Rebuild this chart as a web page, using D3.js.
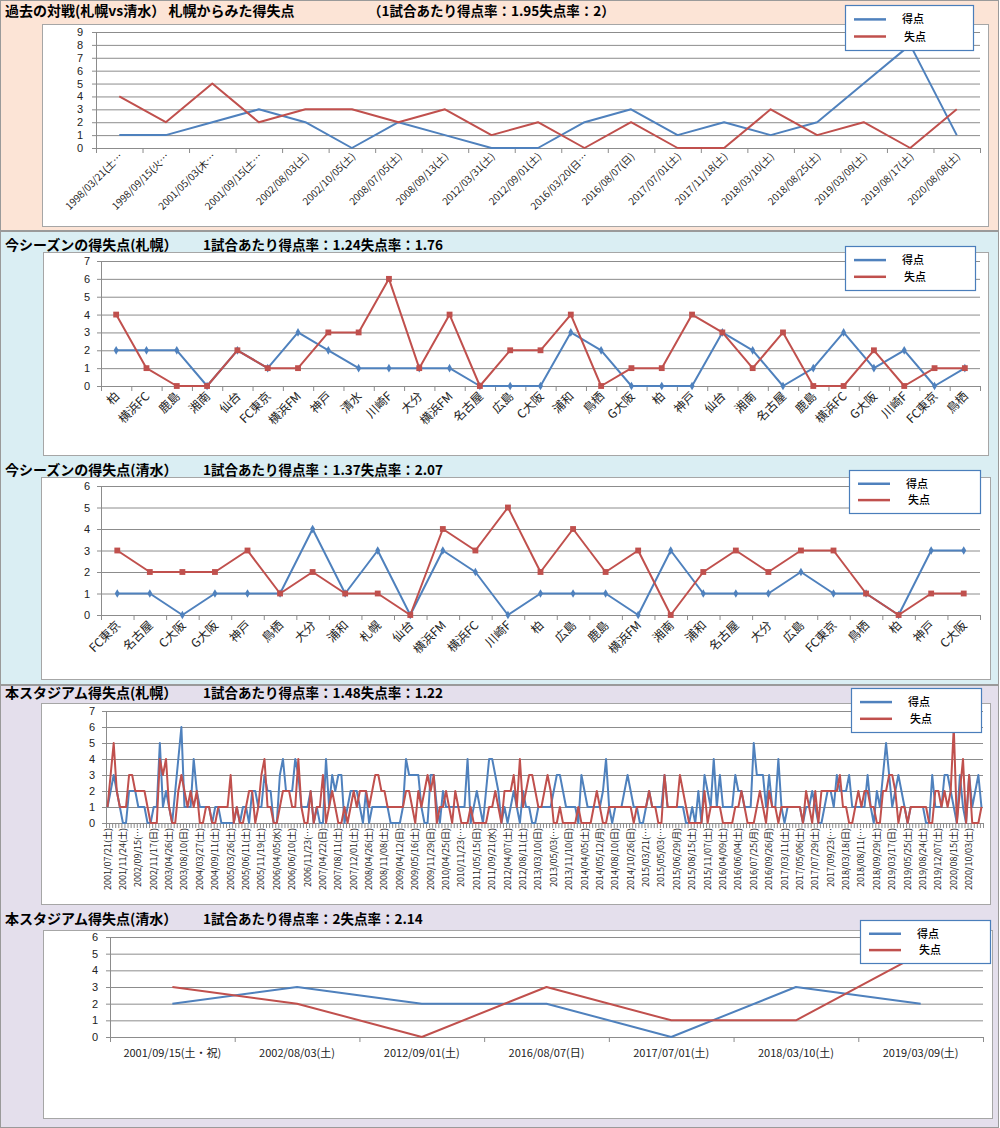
<!DOCTYPE html>
<html lang="ja">
<head>
<meta charset="UTF-8">
<title>札幌vs清水 得失点</title>
<script src="https://cdn.jsdelivr.net/npm/d3@7"></script>
<style>
  body { margin: 0; background: #fff; }
  svg { display: block; }
</style>
</head>
<body>
<div id="chart"></div>
<script>
// ---- 過去の対戦 ----
const h2hDates = ['1998/03/21(土…', '1998/09/15(火…', '2001/05/03(木…', '2001/09/15(土…', '2002/08/03(土)', '2002/10/05(土)',
  '2008/07/05(土)', '2008/09/13(土)', '2012/03/31(土)', '2012/09/01(土)', '2016/03/20(日…', '2016/08/07(日)',
  '2017/07/01(土)', '2017/11/18(土)', '2018/03/10(土)', '2018/08/25(土)', '2019/03/09(土)', '2019/08/17(土)', '2020/08/08(土)']
const h2hFor = [1, 1, 2, 3, 2, 0, 2, 1, 0, 0, 2, 3, 1, 2, 1, 2, 5, 8, 1]
const h2hAgainst = [4, 2, 5, 2, 3, 3, 2, 3, 1, 2, 0, 2, 0, 0, 3, 1, 2, 0, 3]

// ---- 今シーズン(札幌) ----
const sapOpp = ['柏', '横浜FC', '鹿島', '湘南', '仙台', 'FC東京', '横浜FM', '神戸', '清水', '川崎F', '大分', '横浜FM', '名古屋', '広島',
  'C大阪', '浦和', '鳥栖', 'G大阪', '柏', '神戸', '仙台', '湘南', '名古屋', '鹿島', '横浜FC', 'G大阪', '川崎F', 'FC東京', '鳥栖']
const sapFor = [2, 2, 2, 0, 2, 1, 3, 2, 1, 1, 1, 1, 0, 0, 0, 3, 2, 0, 0, 0, 3, 2, 0, 1, 3, 1, 2, 0, 1]
const sapAgainst = [4, 1, 0, 0, 2, 1, 1, 3, 3, 6, 1, 4, 0, 2, 2, 4, 0, 1, 1, 4, 3, 1, 3, 0, 0, 2, 0, 1, 1]

// ---- 今シーズン(清水) ----
const shiOpp = ['FC東京', '名古屋', 'C大阪', 'G大阪', '神戸', '鳥栖', '大分', '浦和', '札幌', '仙台', '横浜FM', '横浜FC', '川崎F', '柏',
  '広島', '鹿島', '横浜FM', '湘南', '浦和', '名古屋', '大分', '広島', 'FC東京', '鳥栖', '柏', '神戸', 'C大阪']
const shiFor = [1, 1, 0, 1, 1, 1, 4, 1, 3, 0, 3, 2, 0, 1, 1, 1, 0, 3, 1, 1, 1, 2, 1, 1, 0, 3, 3]
const shiAgainst = [3, 2, 2, 2, 3, 1, 2, 1, 1, 0, 4, 3, 5, 2, 4, 2, 3, 0, 2, 3, 2, 3, 3, 1, 0, 1, 1]

// ---- 本スタジアム(札幌) 5試合ごとにラベル ----
const domeLabels = ['2001/07/21(土)', '2001/11/24(土)', '2002/09/15(…', '2002/11/17(日)', '2003/04/26(土)', '2003/08/10(日)',
  '2004/03/27(土)', '2004/09/11(土)', '2005/03/26(土)', '2005/06/11(土)', '2005/11/19(土)', '2006/04/05(水)', '2006/06/10(土)',
  '2006/11/23(…', '2007/04/22(日)', '2007/08/11(土)', '2007/12/01(土)', '2008/04/26(土)', '2008/11/08(土)', '2009/04/12(日)',
  '2009/05/16(土)', '2009/11/29(日)', '2010/04/25(日)', '2010/11/23(…', '2011/05/15(日)', '2011/09/21(水)', '2012/04/07(土)',
  '2012/08/11(土)', '2013/03/10(日)', '2013/05/03(…', '2013/11/10(日)', '2014/04/05(土)', '2014/05/12(月)', '2014/08/10(日)',
  '2014/10/26(日)', '2015/03/21(…', '2015/05/03(…', '2015/06/29(月)', '2015/08/15(土)', '2015/11/07(土)', '2016/04/09(土)',
  '2016/06/04(土)', '2016/07/25(月)', '2016/09/26(月)', '2017/03/11(土)', '2017/05/06(土)', '2017/07/29(土)', '2017/09/23(…',
  '2018/03/18(日)', '2018/08/11(…', '2018/09/29(土)', '2019/03/17(日)', '2019/05/25(土)', '2019/08/24(土)', '2019/12/07(土)',
  '2020/08/15(土)', '2020/10/03(土)']
const domeFor = [
  1, 2, 3, 2, 1, 0, 0, 2, 2, 2, 1, 1, 1, 0, 0, 1, 1, 5, 1, 2, 1, 0, 2, 4, 6, 1, 1, 1, 4, 2,
  1, 1, 1, 1, 0, 1, 1, 0, 0, 0, 0, 0, 1, 0, 1, 1, 0, 2, 2, 1, 1, 3, 2, 2, 0, 0, 3, 4, 2, 2,
  2, 4, 3, 1, 1, 1, 2, 0, 1, 0, 0, 4, 1, 3, 2, 3, 3, 0, 1, 2, 2, 2, 1, 0, 2, 0, 1, 1, 1, 1,
  1, 1, 0, 0, 0, 0, 1, 4, 3, 3, 3, 3, 1, 0, 0, 3, 3, 1, 0, 2, 1, 1, 1, 1, 1, 1, 1, 4, 0, 1,
  2, 1, 0, 2, 4, 4, 3, 2, 0, 1, 0, 1, 2, 1, 0, 2, 1, 1, 0, 0, 1, 1, 1, 1, 1, 2, 3, 3, 2, 1,
  1, 1, 1, 0, 3, 2, 1, 1, 1, 1, 1, 2, 4, 1, 0, 1, 1, 1, 2, 3, 2, 1, 1, 0, 0, 1, 2, 1, 1, 1,
  1, 3, 1, 1, 1, 1, 1, 1, 0, 0, 1, 0, 2, 0, 3, 2, 1, 4, 1, 3, 1, 1, 1, 1, 3, 2, 2, 1, 1, 1,
  5, 3, 3, 3, 1, 3, 1, 1, 4, 1, 0, 1, 1, 1, 1, 1, 0, 1, 1, 2, 1, 0, 0, 1, 2, 2, 1, 3, 2, 2,
  2, 3, 1, 1, 1, 1, 1, 3, 1, 0, 2, 1, 3, 5, 3, 1, 2, 3, 2, 1, 0, 1, 1, 1, 1, 1, 0, 0, 3, 1,
  1, 1, 3, 3, 2, 1, 0, 3, 1, 0, 3, 1, 2, 3, 1]
const domeAgainst = [
  1, 3, 5, 2, 1, 1, 1, 3, 3, 2, 2, 2, 2, 1, 0, 0, 0, 4, 3, 4, 1, 0, 0, 2, 3, 2, 1, 2, 1, 2,
  0, 0, 1, 1, 0, 0, 1, 1, 1, 1, 3, 0, 1, 0, 0, 1, 2, 2, 0, 1, 3, 4, 1, 1, 0, 0, 1, 2, 2, 2,
  1, 1, 4, 1, 0, 0, 2, 0, 1, 1, 3, 0, 1, 2, 1, 0, 0, 1, 0, 1, 2, 1, 2, 2, 2, 1, 2, 3, 3, 2,
  2, 1, 1, 1, 1, 1, 1, 2, 2, 1, 0, 2, 1, 2, 3, 2, 3, 0, 1, 1, 2, 1, 0, 2, 1, 0, 0, 0, 1, 0,
  0, 0, 0, 0, 1, 1, 2, 1, 0, 2, 2, 2, 3, 1, 4, 1, 2, 3, 3, 2, 1, 1, 2, 3, 2, 0, 0, 1, 0, 0,
  0, 0, 0, 1, 0, 0, 0, 0, 1, 2, 1, 0, 0, 1, 1, 1, 1, 1, 1, 1, 1, 0, 1, 1, 1, 1, 2, 1, 1, 0,
  0, 3, 1, 1, 1, 1, 3, 2, 1, 0, 0, 0, 0, 0, 2, 0, 1, 1, 1, 1, 0, 0, 0, 0, 1, 1, 2, 1, 0, 0,
  0, 1, 2, 1, 0, 2, 1, 1, 0, 1, 1, 1, 1, 1, 1, 1, 0, 2, 1, 0, 2, 0, 2, 2, 2, 2, 2, 2, 3, 1,
  1, 0, 0, 1, 2, 1, 2, 2, 1, 1, 0, 0, 2, 2, 3, 3, 2, 0, 1, 1, 0, 1, 1, 1, 1, 1, 1, 0, 0, 2,
  2, 1, 2, 1, 2, 6, 0, 2, 4, 0, 3, 0, 0, 0, 1]

// ---- 本スタジアム(清水) ----
const shiDomeDates = ['2001/09/15(土・祝)', '2002/08/03(土)', '2012/09/01(土)', '2016/08/07(日)', '2017/07/01(土)', '2018/03/10(土)', '2019/03/09(土)']
const shiDomeFor = [2, 3, 2, 2, 0, 3, 2]
const shiDomeAgainst = [3, 2, 0, 3, 1, 1, 5]

const FONT = '"Noto Sans CJK JP", "Noto Sans", sans-serif'
const NUMFONT = '"Liberation Sans", "DejaVu Sans", sans-serif'
const BLUE = '#4F81BD'
const RED = '#C0504D'
const GRID = '#8c8c8c'

const svg = d3.select('#chart').append('svg')
  .attr('width', 1000).attr('height', 1128)
  .attr('font-family', FONT)

// section backgrounds
const sections = [
  { y: 0, h: 231, fill: '#FCE4D6' },
  { y: 231, h: 454, fill: '#DAEEF3' },
  { y: 685, h: 443, fill: '#E4DFEC' }
]
svg.selectAll('rect.sec').data(sections).join('rect')
  .attr('class', 'sec')
  .attr('x', 0.5).attr('y', d => d.y + 0.5)
  .attr('width', 998).attr('height', d => d.h - 1)
  .attr('fill', d => d.fill).attr('stroke', '#9a9a9a')

const defs = svg.append('defs')

function drawPanel(p) {
  const [bx0, by0, bx1, by1] = p.box
  svg.append('text').attr('x', 5).attr('y', p.titleY)
    .attr('font-size', 14).attr('font-weight', 'bold').text(p.title)
  svg.append('text').attr('x', p.rateX).attr('y', p.titleY)
    .attr('font-size', 13.5).attr('font-weight', 'bold').text(p.rate)

  svg.append('rect').attr('x', bx0 + 0.5).attr('y', by0 + 0.5)
    .attr('width', bx1 - bx0).attr('height', by1 - by0)
    .attr('fill', '#fff').attr('stroke', '#a6a6a6')

  const n = p.scored.length
  const x = d3.scaleBand().domain(d3.range(n)).range([p.x0, p.x1])
  const xEdge = d3.scaleLinear().domain([0, n]).range([p.x0, p.x1])
  const y = d3.scaleLinear().domain([0, p.yMax]).range([p.yBase, p.yTop])
  const cx = i => x(i) + x.bandwidth() / 2

  // gridlines
  const gg = svg.append('g').attr('transform', `translate(${p.x0},0)`)
    .call(d3.axisLeft(y).ticks(p.yMax).tickSize(-(p.x1 - p.x0)).tickSizeOuter(0).tickFormat(''))
  gg.select('.domain').remove()
  gg.selectAll('line').attr('stroke', GRID)

  // y axis
  const gy = svg.append('g').attr('transform', `translate(${p.x0},0)`)
    .call(d3.axisLeft(y).ticks(p.yMax).tickSize(4).tickSizeOuter(0).tickPadding(p.yPad).tickFormat(d3.format('d')))
  gy.attr('font-family', NUMFONT).attr('font-size', 11)
  gy.select('.domain').attr('stroke', GRID)
  gy.selectAll('line').attr('stroke', GRID)
  gy.selectAll('text').attr('fill', '#222')

  // x axis, ticks between categories
  const gx = svg.append('g').attr('transform', `translate(0,${p.yBase})`)
    .call(d3.axisBottom(xEdge).tickValues(d3.range(n + 1)).tickSize(5).tickSizeOuter(0).tickFormat(''))
  gx.select('.domain').attr('stroke', GRID)
  gx.selectAll('line').attr('stroke', GRID)

  // category labels
  const every = p.every || 1
  const idx = d3.range(n).filter(i => i % every === 0)
  const lab = svg.append('g').attr('font-size', p.labelSize).attr('fill', '#222')
  if (p.clip) {
    defs.append('clipPath').attr('id', p.clip)
      .append('rect').attr('x', bx0).attr('y', by0).attr('width', bx1 - bx0).attr('height', by1 - by0)
    lab.attr('clip-path', `url(#${p.clip})`)
  }
  lab.selectAll('text').data(idx).join('text')
    .text(i => p.labels[i / every])
    .attr('text-anchor', p.rot === 0 ? 'middle' : 'end')
    .attr('transform', i => p.rot === 0
      ? `translate(${cx(i)},${p.yBase + p.ldy})`
      : `translate(${cx(i) + p.ldx},${p.yBase + p.ldy}) rotate(${p.rot})`)

  // series
  const line = d3.line().x((d, i) => cx(i)).y(d => y(d))
  const series = [
    { vals: p.scored, color: BLUE, sym: d3.symbolDiamond, size: 22 },
    { vals: p.conceded, color: RED, sym: d3.symbolSquare, size: 34 }
  ]
  series.forEach(s => {
    svg.append('path').datum(s.vals).attr('d', line)
      .attr('fill', 'none').attr('stroke', s.color).attr('stroke-width', 2)
      .attr('stroke-linejoin', 'round')
    if (p.markers) {
      svg.append('g').selectAll('path').data(s.vals).join('path')
        .attr('d', d3.symbol().type(s.sym).size(s.size))
        .attr('transform', (d, i) => `translate(${cx(i)},${y(d)})`)
        .attr('fill', s.color)
    }
  })

  // legend
  const [lx0, ly0, lx1, ly1] = p.legend
  const lg = svg.append('g')
  lg.append('rect').attr('x', lx0 + 0.5).attr('y', ly0 + 0.5)
    .attr('width', lx1 - lx0).attr('height', ly1 - ly0)
    .attr('fill', '#fff').attr('stroke', '#4A7EBB').attr('stroke-width', 1.2)
  const rows = [{ name: '得点', color: BLUE, dx: 0 }, { name: '失点', color: RED, dx: 2 }]
  rows.forEach((r, k) => {
    const yy = ly0 + (ly1 - ly0) * (0.32 + k * 0.38)
    lg.append('line').attr('x1', lx0 + 9).attr('x2', lx0 + 41).attr('y1', yy).attr('y2', yy)
      .attr('stroke', r.color).attr('stroke-width', 2.5)
    lg.append('text').attr('x', lx0 + 57 + r.dx).attr('y', yy + 4)
      .attr('font-size', 11).attr('font-weight', 500).text(r.name)
  })
}

drawPanel({
  title: '過去の対戦(札幌vs清水） 札幌からみた得失点', rate: '（1試合あたり得点率：1.95失点率：2）',
  titleY: 16, rateX: 368, box: [42, 24, 988, 226],
  x0: 96, x1: 980, yBase: 148, yTop: 32, yMax: 9, yPad: 9,
  labels: h2hDates, labelSize: 10, rot: -45, ldx: 4, ldy: 9,
  scored: h2hFor, conceded: h2hAgainst, markers: false, legend: [845, 5, 973, 50]
})

drawPanel({
  title: '今シーズンの得失点(札幌）', rate: '1試合あたり得点率：1.24失点率：1.76',
  titleY: 250, rateX: 203, box: [43, 252, 988, 455],
  x0: 101, x1: 980, yBase: 386, yTop: 261, yMax: 7, yPad: 7,
  labels: sapOpp, labelSize: 12, rot: -45, ldx: 4, ldy: 11,
  scored: sapFor, conceded: sapAgainst, markers: true, legend: [845, 246, 975, 290]
})

drawPanel({
  title: '今シーズンの得失点(清水）', rate: '1試合あたり得点率：1.37失点率：2.07',
  titleY: 475, rateX: 203, box: [41, 477, 990, 679],
  x0: 101, x1: 980, yBase: 615, yTop: 486, yMax: 6, yPad: 7,
  labels: shiOpp, labelSize: 12, rot: -45, ldx: 4, ldy: 11,
  scored: shiFor, conceded: shiAgainst, markers: true, legend: [849, 470, 980, 513]
})

drawPanel({
  title: '本スタジアム得失点(札幌）', rate: '1試合あたり得点率：1.48失点率：1.22',
  titleY: 698, rateX: 203, box: [41, 703, 990, 904],
  x0: 106, x1: 983, yBase: 823, yTop: 711, yMax: 7, yPad: 7,
  labels: domeLabels, every: 5, labelSize: 9, rot: -90, ldx: 3, ldy: 5, clip: 'clip-dome',
  scored: domeFor, conceded: domeAgainst, markers: false, legend: [851, 688, 981, 732]
})

drawPanel({
  title: '本スタジアム得失点(清水）', rate: '1試合あたり得点率：2失点率：2.14',
  titleY: 924, rateX: 203, box: [43, 930, 992, 1118],
  x0: 110, x1: 983, yBase: 1037, yTop: 937, yMax: 6, yPad: 8,
  labels: shiDomeDates, labelSize: 11, rot: 0, ldx: 0, ldy: 20,
  scored: shiDomeFor, conceded: shiDomeAgainst, markers: false, legend: [860, 920, 990, 963]
})
</script>
</body>
</html>
